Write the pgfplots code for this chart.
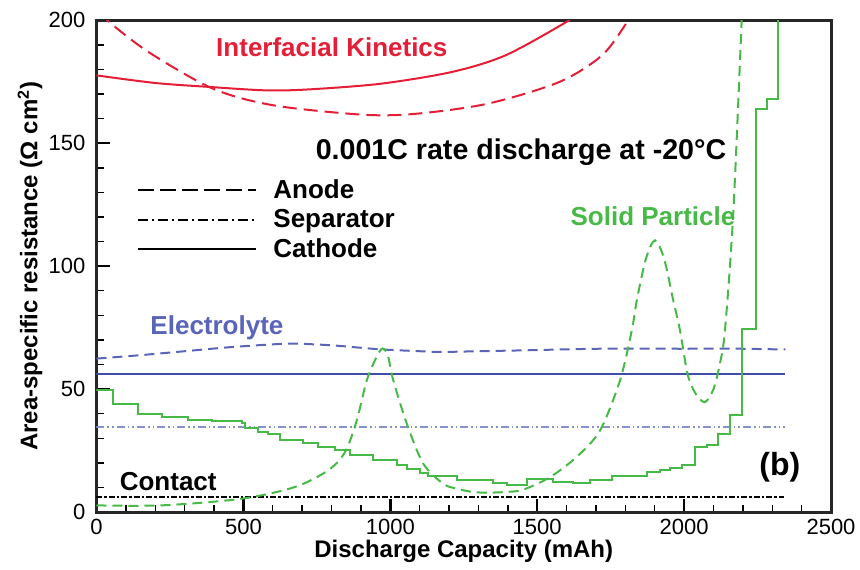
\documentclass[border=0pt]{standalone}
\usepackage{fontspec}
\setmainfont{Liberation Sans}
\usepackage{pgfplots}
\pgfplotsset{compat=1.18}

\definecolor{ikred}{RGB}{228,30,55}
\definecolor{spgreen}{RGB}{70,185,70}
\definecolor{elblue}{RGB}{65,75,170}
\definecolor{elblue2}{RGB}{90,100,185}
\definecolor{elblue3}{RGB}{135,145,205}

\begin{document}
\begin{tikzpicture}
\path[use as bounding box] (-48.25pt,-28.5pt) rectangle (381.75pt,256pt);
\begin{axis}[
  scale only axis, width=367.25pt, height=245.85pt,
  xmin=0, xmax=2500, ymin=0, ymax=200,
  xtick={0,500,...,2500}, ytick={0,50,...,200},
  minor x tick num=4, minor y tick num=4,
  tick align=inside, xtick pos=left, ytick pos=left,
  major tick length=6.5pt, minor tick length=3.5pt,
  every major tick/.style={black, line width=1.2pt},
  every minor tick/.style={black, line width=0.7pt},
  axis line style={line width=1.5pt, black!85},
  tick label style={font=\fontsize{11}{13}\selectfont},
  /pgf/number format/assume math mode=true,
  /pgf/number format/1000 sep={},
  yticklabel style={xshift=-2pt},
  label style={font=\bfseries\fontsize{12}{14}\selectfont},
  xlabel={Discharge Capacity (mAh)},
  ylabel={Area-specific resistance (Ω cm\textsuperscript{2})},
  xlabel style={at={(axis description cs:0.5,-0.080)}, anchor=center},
  ylabel style={at={(axis description cs:-0.0905,0.5)}, anchor=center},
  legend image code/.code={\draw[#1] (0pt,0pt) -- (59pt,0pt);},
  legend cell align=left,
  legend style={draw=none, fill=none, at={(axis cs:138,118.8)}, anchor=west,
    inner sep=0pt, font=\bfseries\fontsize{13}{15}\selectfont,
    /tikz/every odd column/.append style={column sep=6pt}},
]
\addlegendimage{black, line width=1pt, dash pattern=on 8pt off 3pt}
\addlegendentry{Anode}
\addlegendimage{black, line width=1pt, dash pattern=on 5pt off 2pt on 1pt off 2pt}
\addlegendentry{Separator}
\addlegendimage{black, line width=1pt}
\addlegendentry{Cathode}

% interfacial kinetics
\addplot[ikred, line width=1pt, smooth, forget plot] coordinates {
  (0,177.6) (200,174.5) (384,172.9) (578,171.5) (724,171.9) (967,174.2)
  (1210,179.0) (1393,185.8) (1599,199.3) (1625,202)
};
\addplot[ikred, line width=1pt, smooth, dash pattern=on 7pt off 3.5pt, forget plot] coordinates {
  (20,204) (37,200) (177,187.1) (396,172.2) (603,165.4) (907,161.6) (1089,162.0)
  (1332,166.1) (1575,174.9) (1721,185.8) (1806,199.3) (1815,202)
};

% electrolyte
\addplot[elblue2, line width=1pt, smooth, dash pattern=on 5pt off 3pt, forget plot] coordinates {
  (0,62.4) (150,63.8) (300,65.4) (450,67.0) (600,68.2) (675,68.5) (800,67.8)
  (900,66.8) (974,66.1) (1100,65.4) (1173,65.1) (1300,65.4) (1472,65.8)
  (1650,66.3) (1804,66.5) (2000,66.4) (2136,66.5) (2345,66.1)
};
\addplot[elblue, line width=0.9pt, forget plot] coordinates {(0,56.1) (2345,56.1)};
\addplot[elblue3, line width=1.2pt, dash pattern=on 4pt off 1.5pt on 0.8pt off 1.5pt on 0.8pt off 1.5pt, forget plot]
  coordinates {(0,34.6) (2345,34.6)};

% contact
\addplot[black, line width=1.3pt, dash pattern=on 3pt off 1pt on 1.2pt off 1pt, forget plot]
  coordinates {(0,6.1) (2340,6.1)};

% solid particle
\addplot[spgreen, line width=1pt, smooth, dash pattern=on 5pt off 3pt, forget plot] coordinates {
  (0,2.7) (222,2.7) (494,5.4) (676,10.2) (789,17.0) (846,24.4) (886,37.3)
  (920,53.6) (955,63.5) (974,66.5) (992,63.5) (1010,53.6) (1056,36.0)
  (1112,19.7) (1180,11.5) (1226,9.5) (1283,8.1) (1339,7.9) (1400,8.2)
  (1453,9.1) (1544,14.2) (1634,22.4) (1714,33.2) (1782,53.6) (1822,73.9)
  (1839,86.1) (1870,103) (1901,110.5) (1932,103) (1963,86.1) (1986,73.9)
  (2012,56) (2040,48) (2071,44.7) (2100,50) (2122,60.4) (2139,73.9)
  (2167,120.8) (2196,200) (2199,210)
};
\addplot[spgreen, line width=1pt, const plot, forget plot] coordinates {
  (0,49.8) (57,44.1) (140,40.0) (222,38.6) (313,37.6) (392,36.9) (494,36.2)
  (505,34.3) (551,32.5) (585,31.6) (625,29.4) (704,28.1) (755,26.4) (812,25.4)
  (863,23.1) (942,21.0) (1022,19.0) (1056,17.6) (1101,15.9) (1129,14.5)
  (1226,13.2) (1351,11.8) (1396,10.9) (1464,13.6) (1555,12.2) (1623,11.8)
  (1680,12.9) (1754,14.6) (1873,16.3) (1918,17.0) (1952,17.9) (1992,19.0)
  (2037,26.4) (2077,27.1) (2117,31.6) (2156,39.6) (2198,74.6) (2245,164.1)
  (2281,168.1) (2321,210)
};

\node[ikred, font=\bfseries\fontsize{13}{15}\selectfont] at (axis cs:801,189.0) {Interfacial Kinetics};
\node[black, font=\bfseries\fontsize{14.3}{16}\selectfont] at (axis cs:1445,146.3) {0.001C rate discharge at -20°C};
\node[spgreen, font=\bfseries\fontsize{13}{15}\selectfont] at (axis cs:1894,120.2) {Solid Particle};
\node[elblue2, font=\bfseries\fontsize{13}{15}\selectfont] at (axis cs:410,75.1) {Electrolyte};
\node[black, font=\bfseries\fontsize{13}{15}\selectfont] at (axis cs:244,12.5) {Contact};
\node[black, font=\bfseries\fontsize{16}{18}\selectfont] at (axis cs:2326,18.2) {(b)};
\end{axis}
\end{tikzpicture}
\end{document}
